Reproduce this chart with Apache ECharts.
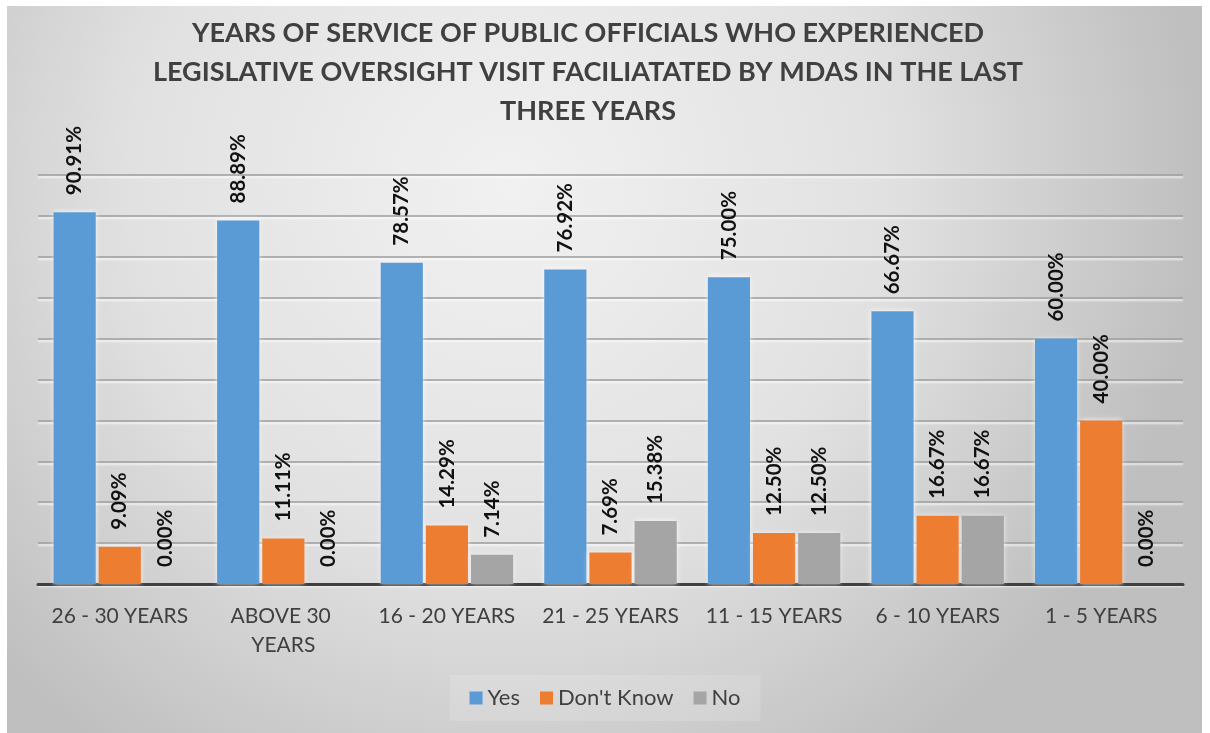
<!DOCTYPE html>
<html>
<head>
<meta charset="utf-8">
<title>Years of Service – Legislative Oversight Visits</title>
<script src="https://cdn.jsdelivr.net/npm/echarts@6/dist/echarts.min.js"></script>
<style>
  html, body { margin: 0; padding: 0; background: #ffffff; }
  #chart { width: 1210px; height: 733px; }
</style>
</head>
<body>
<div id="chart"></div>
<script>
// Years-of-service groups, in the order shown along the axis
const categories = ['26 - 30 YEARS', 'ABOVE 30 YEARS', '16 - 20 YEARS', '21 - 25 YEARS', '11 - 15 YEARS', '6 - 10 YEARS', '1 - 5 YEARS'];

// Share of respondents per answer (%)
const yesValues = [90.91, 88.89, 78.57, 76.92, 75.00, 66.67, 60.00];
const dontKnowValues = [9.09, 11.11, 14.29, 7.69, 12.50, 16.67, 40.00];
const noValues = [0.00, 0.00, 7.14, 15.38, 12.50, 16.67, 0.00];

const seriesNames = ['Yes', "Don't Know", 'No'];
const seriesColors = ['#5b9bd5', '#ed7d31', '#a5a5a5'];

const titleText = 'YEARS OF SERVICE OF PUBLIC OFFICIALS WHO EXPERIENCED\nLEGISLATIVE OVERSIGHT VISIT FACILIATATED BY MDAS IN THE LAST\nTHREE YEARS';

const chart = echarts.init(document.getElementById('chart'), null, { renderer: 'canvas' });

function barSeries(name, data, color) {
  return {
    name: name,
    type: 'bar',
    data: data,
    barGap: '7%',
    barCategoryGap: '19%',
    itemStyle: {
      color: color,
      shadowColor: 'rgba(255,255,255,0.85)',
      shadowBlur: 5
    },
    label: {
      show: true,
      position: 'top',
      rotate: 90,
      align: 'left',
      verticalAlign: 'middle',
      distance: 17,
      fontFamily: 'Lato',
      fontWeight: 'bold',
      fontSize: 20.5,
      color: '#111111',
      formatter: p => p.value.toFixed(2) + '%'
    }
  };
}

chart.setOption({
  animation: false,
  graphic: [{
    type: 'rect',
    z: -10,
    silent: true,
    shape: { x: 7, y: 6, width: 1195, height: 727 },
    style: {
      fill: {
        type: 'radial',
        x: 0.42, y: 0.25, r: 0.95,
        colorStops: [
          { offset: 0, color: '#f1f1f1' },
          { offset: 0.55, color: '#e1e1e1' },
          { offset: 1, color: '#bfbfbf' }
        ]
      }
    }
  }],
  title: {
    text: titleText,
    left: 583,
    top: 9,
    textAlign: 'center',
    textStyle: {
      fontFamily: 'Lato',
      fontWeight: 'bold',
      fontSize: 27,
      lineHeight: 39,
      color: '#404040'
    }
  },
  legend: {
    data: seriesNames,
    left: 'center',
    bottom: 12,
    itemWidth: 13,
    itemHeight: 13,
    itemGap: 20,
    padding: [12, 20],
    backgroundColor: 'rgba(255,255,255,0.14)',
    icon: 'rect',
    textStyle: {
      fontFamily: 'Lato',
      fontSize: 22,
      color: '#404040'
    }
  },
  grid: {
    left: 38,
    right: 27,
    top: 175,
    bottom: 149,
    containLabel: false
  },
  xAxis: {
    type: 'category',
    data: categories,
    axisTick: { show: false },
    axisLine: { lineStyle: { color: '#404040', width: 3 } },
    axisLabel: {
      margin: 18,
      fontFamily: 'Lato',
      fontSize: 21,
      lineHeight: 29,
      color: '#404040',
      width: 145,
      overflow: 'break',
      interval: 0
    }
  },
  yAxis: {
    type: 'value',
    min: 0,
    max: 100,
    interval: 10,
    axisLine: { show: false },
    axisTick: { show: false },
    axisLabel: { show: false },
    splitLine: {
      lineStyle: {
        color: '#9d9d9d',
        width: 1.5,
        shadowColor: 'rgba(255,255,255,0.9)',
        shadowBlur: 2,
        shadowOffsetY: 2
      }
    }
  },
  series: [
    barSeries(seriesNames[0], yesValues, seriesColors[0]),
    barSeries(seriesNames[1], dontKnowValues, seriesColors[1]),
    barSeries(seriesNames[2], noValues, seriesColors[2])
  ]
});
</script>
</body>
</html>
